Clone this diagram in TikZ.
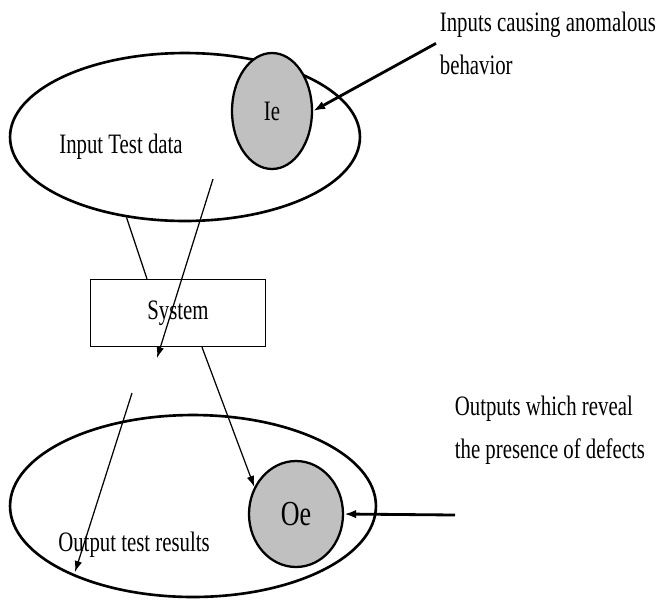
\documentclass[tikz,border=0pt]{standalone}
\usepackage{fontspec}
\setmainfont{Liberation Serif}[FakeStretch=0.74]
\usepackage{tikz}
\usepackage{xcolor}
\usetikzlibrary{arrows.meta,positioning,shapes.geometric,calc}
\definecolor{SetGray}{HTML}{C0C0C0}
\begin{document}
\begin{tikzpicture}[
  x=0.02cm,y=-0.02cm,
  bigset/.style={ellipse,draw=black,line width=1.5pt,inner sep=0pt},
  subset/.style={ellipse,draw=black,fill=SetGray,line width=1.3pt,inner sep=0pt,font=\fontsize{16}{19}\selectfont},
  sysbox/.style={rectangle,draw=black,line width=0.8pt,minimum width=3.5cm,minimum height=1.34cm,font=\fontsize{16}{19}\selectfont},
  lbl/.style={font=\fontsize{16}{19}\selectfont,inner sep=0pt},
  note/.style={align=left,font=\fontsize{16}{24.6}\selectfont,inner sep=2pt},
  thin/.style={line width=0.7pt,draw=black},
  arrow/.style={-{Latex[length=2.2mm,width=1.5mm]},line width=0.7pt,draw=black},
  bigarrow/.style={-{Latex[length=2.4mm,width=1.7mm]},line width=1.6pt,draw=black}
]
\useasboundingbox (0,0) rectangle (656,603);
% sets and system
\node[bigset,minimum width=7cm,minimum height=3.36cm] (inset) at (185,137) {};
\node[subset,minimum width=1.6cm,minimum height=2.32cm] (ie) at (272,111) {Ie};
\node[sysbox] (sys) at (178,313) {System};
\node[bigset,minimum width=7.32cm,minimum height=3.64cm] (outset) at (193,506) {};
\node[subset,minimum width=1.88cm,minimum height=2.12cm,font=\fontsize{20}{24}\selectfont] (oe) at (296,514) {Oe};
\node[lbl] (intext) at (121,147) {Input Test data};
\node[lbl] (outtext) at (134,545) {Output test results};
% notes
\node[note,anchor=north west] (ienote) at (436,8) {Inputs causing anomalous\\behavior};
\node[note,anchor=north west] (oenote) at (451,392) {Outputs which reveal\\the presence of defects};
% free ends
\coordinate (inA) at (213,179);
\coordinate (inB) at (157,358);
\coordinate (outA) at (132,393);
\coordinate (outB) at (75,572);
\coordinate (oeIn) at (455,515);
% connectors
\draw[thin] (inset.234) -- ($(sys.north)+(-31,0)$);
\draw[arrow] (inA) -- (inB);
\draw[arrow] ($(sys.south)+(24,0)$) -- (oe.147);
\draw[arrow] (outA) -- (outB);
\draw[bigarrow] (ienote.west) -- (ie.east);
\draw[bigarrow] (oeIn) -- (oe.east);
\end{tikzpicture}
\end{document}
